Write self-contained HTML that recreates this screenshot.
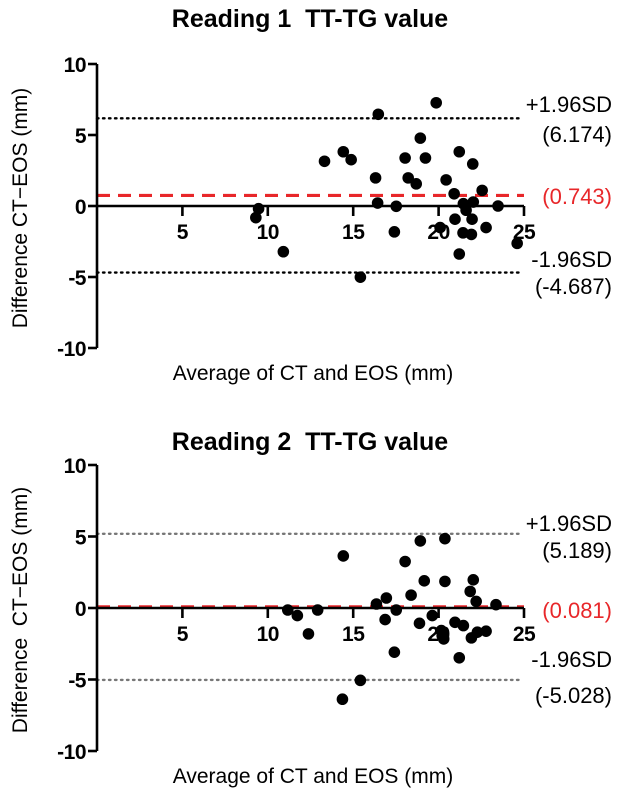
<!DOCTYPE html>
<html><head><meta charset="utf-8"><style>
html,body{margin:0;padding:0;background:#fff;}
svg{display:block;font-family:"Liberation Sans",Arial,sans-serif;}
text{white-space:pre;}
</style></head><body>
<svg id="chart" width="627" height="796" viewBox="0 0 627 796" xmlns="http://www.w3.org/2000/svg"></svg>
<script>
const xTicks = [5, 10, 15, 20, 25];
const yTicks = [10, 5, 0, -5, -10];
const r1x = [19.86,16.47,18.93,14.42,14.88,13.32,18.04,19.23,21.21,22.0,16.31,18.22,18.69,20.44,22.55,20.91,16.43,17.52,21.45,22.03,21.61,23.48,9.46,9.30,20.96,21.96,20.09,22.78,17.41,21.43,21.92,24.6,10.91,21.21,15.42];
const r1y = [7.27,6.46,4.78,3.82,3.26,3.15,3.38,3.38,3.82,2.96,1.98,1.98,1.56,1.84,1.10,0.86,0.21,-0.02,0.16,0.28,-0.3,0,-0.19,-0.82,-0.93,-0.93,-1.52,-1.52,-1.82,-1.89,-2.0,-2.63,-3.22,-3.38,-5.01];
const r2x = [14.42,18.93,20.37,18.04,19.16,20.37,22.03,21.85,22.2,18.39,16.36,16.94,17.52,23.36,11.17,11.73,12.92,19.63,16.87,18.88,20.96,21.45,12.38,20.16,20.21,20.3,22.27,22.78,21.92,17.41,21.21,15.42,14.37];
const r2y = [3.64,4.69,4.85,3.25,1.90,1.86,1.97,1.16,0.46,0.90,0.28,0.70,-0.14,0.23,-0.14,-0.53,-0.14,-0.53,-0.81,-1.07,-1.0,-1.23,-1.81,-1.58,-1.93,-2.16,-1.69,-1.62,-2.09,-3.09,-3.48,-5.06,-6.38];
const r1stats = [6.174, 0.743, -4.687];
const r2stats = [5.189, 0.081, -5.028];

const svg = document.getElementById('chart');
const NS = 'http://www.w3.org/2000/svg';
function mk(tag, attrs, parent) {
  const e = document.createElementNS(NS, tag);
  for (const k in attrs) e.setAttribute(k, attrs[k]);
  (parent || svg).appendChild(e);
  return e;
}
function txt(s, attrs, parent) { const t = mk('text', attrs, parent); t.textContent = s; return t; }

function panel(id, title, xs, ys, stats, top, yZero, yTen, dotColor, lab) {
  const g = mk('g', {});
  
  
  const ax0 = 97, ax25 = 524;
  const unit = (yZero - yTen) / 10;
  const X = v => ax0 + (ax25 - ax0) * v / 25;
  const Y = v => yZero - v * unit;
  const t = txt(title, {x: 310, y: top, 'text-anchor': 'middle', 'font-size': 25, 'font-weight': 'bold', fill: '#000'}, g);
  
  
  const lines = [stats[0], stats[2]];
  lines.forEach(v => {
    const l = mk('line', {x1: X(0), x2: 520, y1: Y(v), y2: Y(v), stroke: dotColor, 'stroke-width': 2.4, 'stroke-dasharray': '1.5 4.5', 'stroke-linecap': 'round'}, g);
    
    
  });
  const m = mk('line', {x1: X(0), x2: 524, y1: Y(stats[1]), y2: Y(stats[1]), stroke: '#e8272a', 'stroke-width': 3.2, 'stroke-dasharray': '13 8'}, g);
  
  
  const ya = mk('line', {x1: ax0, x2: ax0, y1: Y(10), y2: Y(-10), stroke: '#000', 'stroke-width': 2.6}, g);
  
  
  const xa = mk('line', {x1: ax0, x2: ax25, y1: Y(0), y2: Y(0), stroke: '#000', 'stroke-width': 2.6}, g);
  
  
  yTicks.forEach(v => {
    mk('line', {x1: ax0 - 9, x2: ax0, y1: Y(v), y2: Y(v), stroke: '#000', 'stroke-width': 2.6}, g);
    const tl = txt(String(v), {x: ax0 - 11, y: Y(v) + 8, 'text-anchor': 'end', 'font-size': 21, 'font-weight': 'bold', 'letter-spacing': '-0.5'}, g);
    
    
  });
  xTicks.forEach(v => {
    mk('line', {x1: X(v), x2: X(v), y1: Y(0), y2: Y(0) + 10, stroke: '#000', 'stroke-width': 2.6}, g);
    const tl = txt(String(v), {x: X(v), y: Y(0) + 33, 'text-anchor': 'middle', 'font-size': 21, 'font-weight': 'bold', 'letter-spacing': '-0.5'}, g);
    
    
  });
  xs.forEach((xv, i) => {
    const c = mk('circle', {cx: X(xv), cy: Y(ys[i]), r: 5.8, fill: '#000'}, g);
    
    
  });
  const L = (s, y, col, name) => {
    const e = txt(s, {x: 612, y: y, 'text-anchor': 'end', 'font-size': 22, fill: col}, g);
    
    
  };
  L('+1.96SD', lab[0], '#000', 'upper-loa-label');
  L('(' + stats[0].toFixed(3) + ')', lab[1], '#000', 'upper-loa-value');
  L('(' + stats[1].toFixed(3) + ')', lab[2], '#e8272a', 'mean-value');
  L('-1.96SD', lab[3], '#000', 'lower-loa-label');
  L('(' + stats[2].toFixed(3) + ')', lab[4], '#000', 'lower-loa-value');
  const xt = txt('Average of CT and EOS (mm)', {x: 313, y: Y(-10) + 32, 'text-anchor': 'middle', 'font-size': 21}, g);
  
  
  const yt = txt(id === 'reading-2-panel' ? 'Difference  CT\u2212EOS (mm)' : 'Difference CT\u2212EOS (mm)', {x: 0, y: 0, 'text-anchor': 'middle', 'font-size': 21, transform: 'translate(27,' + (Y(0) + 2) + ') rotate(-90)'}, g);
  
  
}
panel('reading-1-panel', 'Reading 1  TT-TG value', r1x, r1y, r1stats, 27, 206, 64, '#000', [112, 142, 204, 267, 294]);
panel('reading-2-panel', 'Reading 2  TT-TG value', r2x, r2y, r2stats, 450, 608, 465, '#777', [531, 558, 618, 667, 703]);
</script>
</body></html>
